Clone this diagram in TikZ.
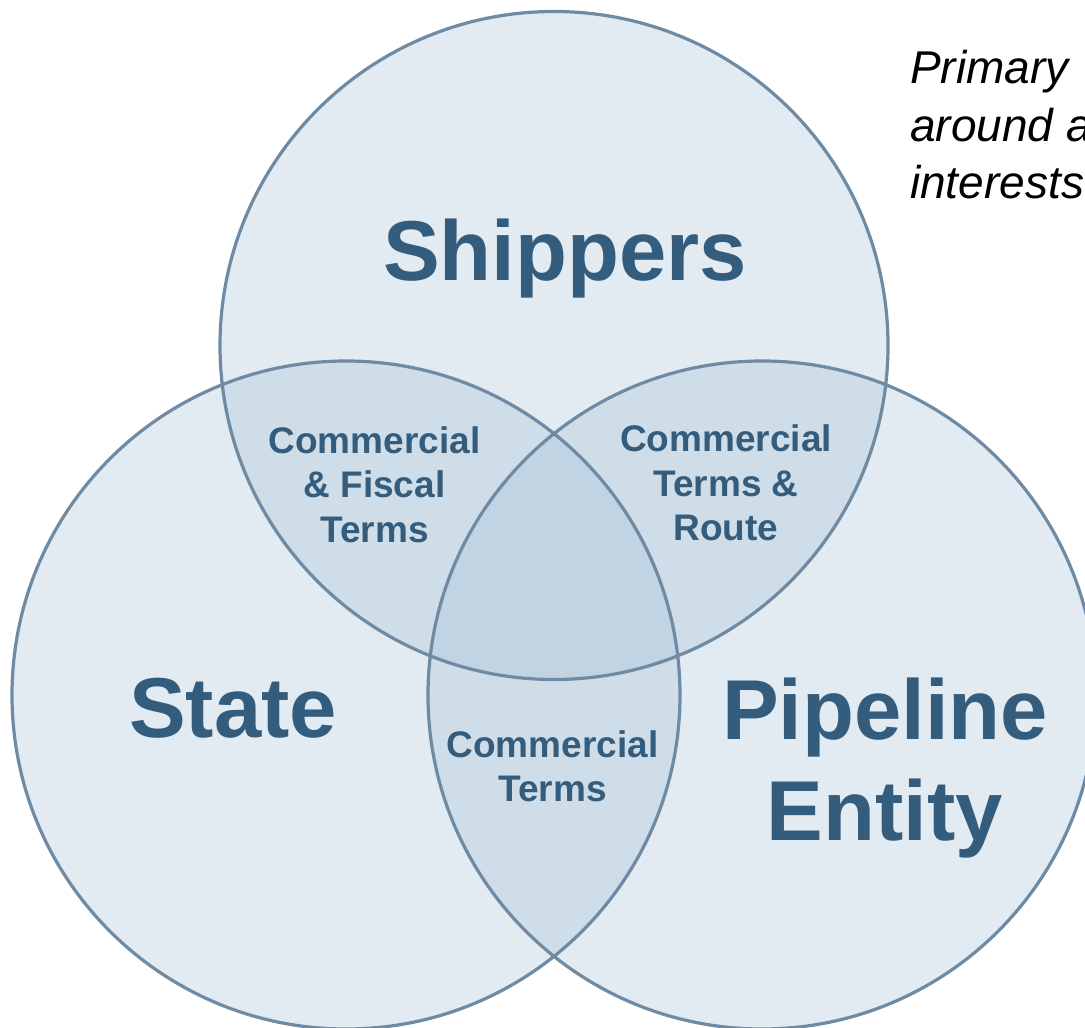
\documentclass[tikz,border=0pt]{standalone}
\usepackage{fontspec}
\setmainfont{Liberation Sans}
\definecolor{cone}{HTML}{E2EAF2}
\definecolor{ctwo}{HTML}{CFDDE8}
\definecolor{cthree}{HTML}{C1D4E3}
\definecolor{cstroke}{HTML}{6F8BA3}
\definecolor{ctext}{HTML}{345C7D}
\begin{document}
\begin{tikzpicture}[x=1pt,y=-1pt,
  ring/.style={draw=cstroke, line width=3.2pt},
  big/.style={font=\bfseries\fontsize{85}{101}\selectfont, text=ctext, inner sep=0pt, align=center},
  small/.style={font=\bfseries\fontsize{37}{44.5}\selectfont, text=ctext, inner sep=0pt, align=center},
  note/.style={font=\itshape\fontsize{46}{57.5}\selectfont, text=black, inner sep=0pt, align=left}]
\useasboundingbox (0,0) rectangle (1085,1028);
\coordinate (T) at (554,345.5);
\coordinate (L) at (346,695);
\coordinate (R) at (762,695);
\fill[cone] (T) circle[radius=334pt] (L) circle[radius=334pt] (R) circle[radius=334pt];
\begin{scope}
  \clip (T) circle[radius=334pt];
  \fill[ctwo] (L) circle[radius=334pt] (R) circle[radius=334pt];
\end{scope}
\begin{scope}
  \clip (L) circle[radius=334pt];
  \fill[ctwo] (R) circle[radius=334pt];
\end{scope}
\begin{scope}
  \clip (T) circle[radius=334pt];
  \clip (L) circle[radius=334pt];
  \fill[cthree] (R) circle[radius=334pt];
\end{scope}
\draw[ring] (T) circle[radius=334pt] (L) circle[radius=334pt] (R) circle[radius=334pt];
\node[big, anchor=base] (ship) at (565,280) {Shippers};
\node[big, anchor=base] (state) at (233,737) {State};
\node[big] (pipe) at (885,768) {Pipeline\\Entity};
\node[small] (cf) at (374.5,484.5) {Commercial\\\& Fiscal\\Terms};
\node[small] (ctr) at (726,483) {Commercial\\Terms \&\\Route};
\node[small] (ct) at (552.5,766.5) {Commercial\\Terms};
\node[note, anchor=north west] (note) at (910,50) {Primary\\around a\\interests};
\end{tikzpicture}
\end{document}
